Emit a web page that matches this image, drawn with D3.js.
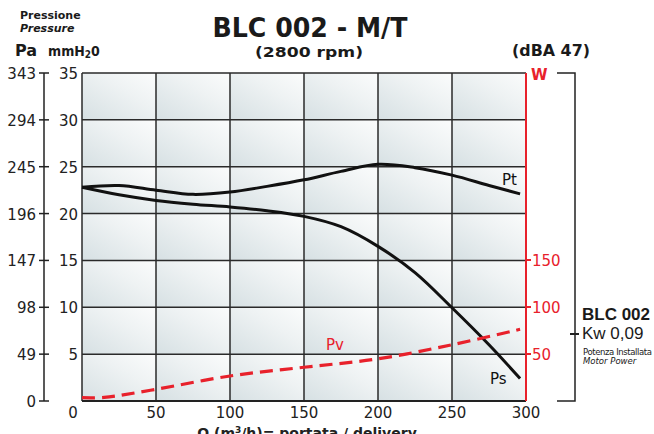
<!DOCTYPE html>
<html><head><meta charset="utf-8">
<script src="https://cdn.jsdelivr.net/npm/d3@7"></script>
<style>html,body{margin:0;padding:0;background:#fff;}svg{display:block;font-family:"DejaVu Sans",Verdana,sans-serif;}</style>
</head><body>
<svg id="c" width="654" height="434"></svg>
<script>
const qTicks = [0,50,100,150,200,250,300];
const mmTicks = [0,5,10,15,20,25,30,35];
const paTicks = [0,49,98,147,196,245,294,343];
const wTicks = [50,100,150];
const qPt = [0,25,50,75,100,125,150,175,200,225,250,275,296];
const pt = [22.8,23.0,22.5,22.05,22.3,22.9,23.6,24.5,25.25,24.9,24.1,23.0,22.1];
const qPs = [0,25,50,75,100,125,150,175,200,225,250,275,296];
const ps = [22.8,22.0,21.4,21.0,20.7,20.3,19.7,18.6,16.5,13.7,9.95,6.0,2.4];
const qPv = [0,15,50,100,150,200,250,296];
const pv = [0.35,0.38,1.25,2.67,3.6,4.5,6.0,7.65];

const svg = d3.select("#c");
const L=82,R=526,T=73,B=401;
const x = d3.scaleLinear().domain([0,300]).range([L,R]);
const y = d3.scaleLinear().domain([0,35]).range([B,T]);
const yPa = d3.scaleLinear().domain([0,343]).range([B,T]);
const yW = d3.scaleLinear().domain([0,50]).range([B,354]);
const red = "#e8212b";

const defs = svg.append("defs");
const g = defs.append("linearGradient").attr("id","cell").attr("x1",0).attr("y1",1).attr("x2",1).attr("y2",0);
g.append("stop").attr("offset","0%").attr("stop-color","#d6e0e3");
g.append("stop").attr("offset","60%").attr("stop-color","#eef2f3");
g.append("stop").attr("offset","100%").attr("stop-color","#fbfcfc");

// cells
for (let i=0;i<qTicks.length-1;i++){
  for (let j=0;j<mmTicks.length-1;j++){
    svg.append("rect").attr("x",x(qTicks[i])).attr("y",y(mmTicks[j+1]))
      .attr("width",x(qTicks[i+1])-x(qTicks[i])).attr("height",y(mmTicks[j])-y(mmTicks[j+1]))
      .attr("fill","url(#cell)");
  }
}
// grid
svg.append("g").selectAll("line").data(qTicks).join("line")
  .attr("x1",d=>x(d)).attr("x2",d=>x(d)).attr("y1",T).attr("y2",B)
  .attr("stroke","#2a2a2a").attr("stroke-width",1.5);
svg.append("g").selectAll("line").data(mmTicks).join("line")
  .attr("x1",L).attr("x2",R).attr("y1",d=>y(d)).attr("y2",d=>y(d))
  .attr("stroke","#2a2a2a").attr("stroke-width",1.5);
svg.append("line").attr("x1",L).attr("x2",R).attr("y1",B).attr("y2",B).attr("stroke","#222").attr("stroke-width",2);

// red W axis
svg.append("line").attr("x1",R).attr("x2",R).attr("y1",T).attr("y2",B).attr("stroke",red).attr("stroke-width",2);
svg.append("g").selectAll("line").data(wTicks).join("line")
  .attr("x1",R).attr("x2",R+5).attr("y1",d=>yW(d)).attr("y2",d=>yW(d)).attr("stroke",red).attr("stroke-width",2);
svg.append("g").selectAll("text").data(wTicks).join("text")
  .attr("x",R+6).attr("y",d=>yW(d)+6).attr("fill",red).attr("font-size",15).text(d=>d);
svg.append("text").attr("x",531).attr("y",80).attr("fill",red).attr("font-size",15).attr("font-weight","bold").text("W");

// mmH2O labels (0 omitted as in the reference)
svg.append("g").selectAll("text").data(mmTicks.filter(d=>d>0)).join("text")
  .attr("x",78).attr("y",d=>y(d)+6).attr("text-anchor","end").attr("font-size",15).attr("fill","#222").text(d=>d);
// Pa axis
svg.append("line").attr("x1",44).attr("x2",44).attr("y1",T).attr("y2",B).attr("stroke","#222").attr("stroke-width",1.5);
svg.append("g").selectAll("line").data(paTicks).join("line")
  .attr("x1",39).attr("x2",49).attr("y1",d=>yPa(d)).attr("y2",d=>yPa(d)).attr("stroke","#222").attr("stroke-width",1.5);
svg.append("g").selectAll("text").data(paTicks).join("text")
  .attr("x",36).attr("y",d=>yPa(d)+6).attr("text-anchor","end").attr("font-size",15).attr("fill","#222").text(d=>d);
// x labels
svg.append("g").selectAll("text").data(qTicks).join("text")
  .attr("x",d=>d===0?x(d)-9:x(d)).attr("y",418).attr("text-anchor","middle").attr("font-size",15).attr("fill","#222").text(d=>d);
const xl = svg.append("text").attr("x",307).attr("y",438).attr("text-anchor","middle").attr("font-size",14).attr("font-weight","bold").attr("fill","#222");
xl.append("tspan").text("Q (m");
xl.append("tspan").attr("font-size",9).attr("dy",-5).text("3");
xl.append("tspan").attr("dy",5).text("/h)= portata / delivery");

// curves
const line = d3.line().curve(d3.curveCatmullRom.alpha(0.5));
svg.append("path").attr("d",line(qPt.map((q,i)=>[x(q),y(pt[i])]))).attr("fill","none").attr("stroke","#111").attr("stroke-width",3);
svg.append("path").attr("d",line(qPs.map((q,i)=>[x(q),y(ps[i])]))).attr("fill","none").attr("stroke","#111").attr("stroke-width",3);
svg.append("path").attr("d",line(qPv.map((q,i)=>[x(q),y(pv[i])]))).attr("fill","none").attr("stroke",red).attr("stroke-width",3.2).attr("stroke-dasharray","13,7");
svg.append("text").attr("x",502).attr("y",185).attr("font-size",15).attr("fill","#111").text("Pt");
svg.append("text").attr("x",490).attr("y",384).attr("font-size",15).attr("fill","#111").text("Ps");
svg.append("text").attr("x",326).attr("y",350).attr("font-size",15).attr("fill",red).text("Pv");

// titles
svg.append("text").attr("x",310).attr("y",37).attr("text-anchor","middle").attr("font-size",27).attr("font-weight","bold").attr("fill","#1a1a1a").attr("textLength",195).attr("lengthAdjust","spacingAndGlyphs").text("BLC 002 - M/T");
svg.append("text").attr("x",309).attr("y",57).attr("text-anchor","middle").attr("font-size",14).attr("font-weight","bold").attr("fill","#1a1a1a").attr("textLength",108).attr("lengthAdjust","spacingAndGlyphs").text("(2800 rpm)");
svg.append("text").attr("x",551).attr("y",56).attr("text-anchor","middle").attr("font-size",15).attr("font-weight","bold").attr("fill","#1a1a1a").attr("textLength",78).attr("lengthAdjust","spacingAndGlyphs").text("(dBA 47)");
svg.append("text").attr("x",20).attr("y",19).attr("font-size",11).attr("font-weight","bold").attr("fill","#1a1a1a").text("Pressione");
svg.append("text").attr("x",20).attr("y",32).attr("font-size",11).attr("font-weight","bold").attr("font-style","italic").attr("fill","#1a1a1a").text("Pressure");
svg.append("text").attr("x",15).attr("y",56).attr("font-size",16).attr("font-weight","bold").attr("fill","#1a1a1a").text("Pa");
const mm = svg.append("text").attr("x",48).attr("y",56).attr("font-size",14).attr("fill","#1a1a1a").attr("font-family","DejaVu Sans Condensed").attr("font-weight","bold");
mm.append("tspan").text("mmH");
mm.append("tspan").attr("font-size",10).attr("dy",2).text("2");
mm.append("tspan").attr("dy",-2).text("0");

// bracket
svg.append("path").attr("d",`M557,${T}H575V${B}H557`).attr("fill","none").attr("stroke","#222").attr("stroke-width",1.5);
svg.append("line").attr("x1",570).attr("x2",579).attr("y1",334).attr("y2",334).attr("stroke","#222").attr("stroke-width",2);
svg.append("text").attr("x",582).attr("y",320).attr("font-size",17).attr("font-weight","bold").attr("fill","#1a1a1a").attr("font-family","Liberation Sans, Arial").text("BLC 002");
svg.append("text").attr("x",582).attr("y",339).attr("font-size",17).attr("fill","#1a1a1a").attr("font-family","Liberation Sans, Arial").text("Kw 0,09");
svg.append("text").attr("x",583).attr("y",355).attr("font-size",8.5).attr("fill","#1a1a1a").attr("textLength",69).text("Potenza Installata");
svg.append("text").attr("x",583).attr("y",364).attr("font-size",8.5).attr("font-style","italic").attr("fill","#1a1a1a").text("Motor Power");
</script>
</body></html>
